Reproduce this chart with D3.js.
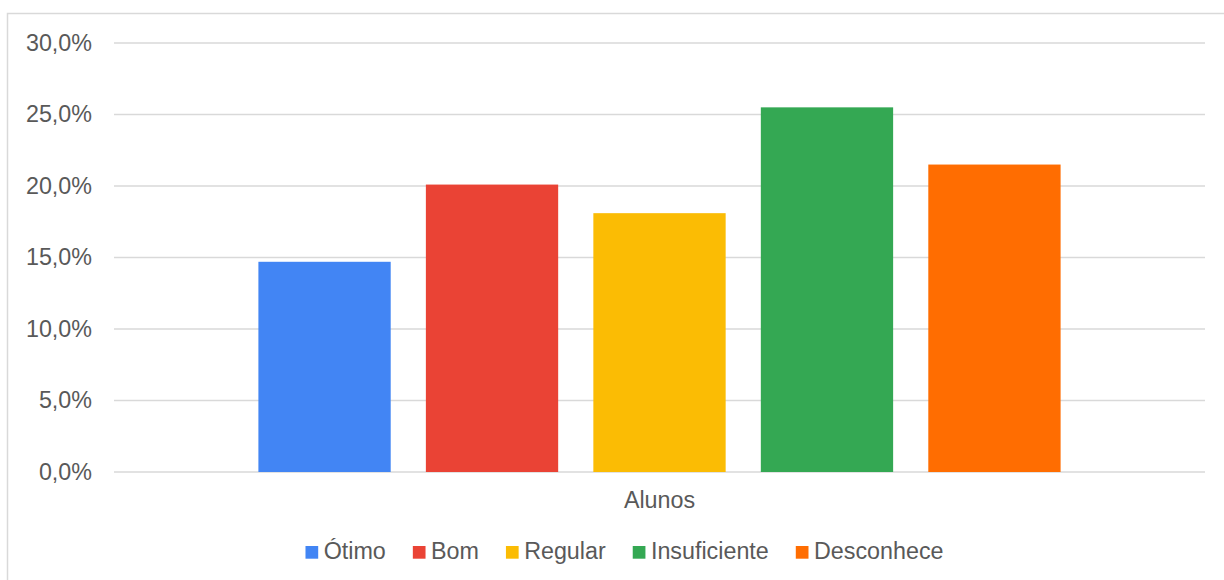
<!DOCTYPE html>
<html>
<head>
<meta charset="utf-8">
<title>Alunos</title>
<style>
  body { margin: 0; background: #fff; }
  text { font-family: "Liberation Sans", Arial, sans-serif; fill: #595959; }
  .grid line { stroke: #d9d9d9; stroke-width: 1.5px; }
</style>
</head>
<body>
<script src="https://cdn.jsdelivr.net/npm/d3@7"></script>
<script>
// data
var categories = ["Alunos"];
var series = ["Ótimo", "Bom", "Regular", "Insuficiente", "Desconhece"];
var values = [14.7, 20.1, 18.1, 25.5, 21.5];
var colors = ["#4285F4", "#EA4335", "#FBBC04", "#34A853", "#FF6D01"];
var yTicks = [0, 5, 10, 15, 20, 25, 30];

var W = 1224, H = 580;
var margin = { top: 43, right: 19, bottom: 108, left: 114 };

var svg = d3.select("body").append("svg")
    .attr("width", W)
    .attr("height", H);

// chart area border (only left and top visible)
svg.append("rect")
    .attr("x", 7.5).attr("y", 13.5)
    .attr("width", W + 20).attr("height", H + 20)
    .attr("fill", "none")
    .attr("stroke", "#d9d9d9")
    .attr("stroke-width", 1.5);

var y = d3.scaleLinear()
    .domain([0, 30])
    .range([H - margin.bottom, margin.top]);

var x0 = d3.scaleBand()
    .domain(categories)
    .range([margin.left, W - margin.right])
    .paddingOuter(0.18);

var x1 = d3.scaleBand()
    .domain(series)
    .range([0, x0.bandwidth()])
    .paddingInner(0.21);

var fmt = function(d) { return d3.format(".1f")(d).replace(".", ",") + "%"; };

// gridlines
svg.append("g")
    .attr("class", "grid")
    .selectAll("line")
    .data(yTicks)
    .join("line")
    .attr("x1", margin.left)
    .attr("x2", W - margin.right)
    .attr("y1", function(d) { return y(d); })
    .attr("y2", function(d) { return y(d); });

// y labels
svg.append("g")
    .selectAll("text")
    .data(yTicks)
    .join("text")
    .attr("x", 92)
    .attr("y", function(d) { return y(d); })
    .attr("dy", "0.33em")
    .attr("text-anchor", "end")
    .style("font-size", "23.3px")
    .text(fmt);

// bars
svg.append("g")
    .selectAll("rect")
    .data(values)
    .join("rect")
    .attr("x", function(d, i) { return x0("Alunos") + x1(series[i]); })
    .attr("y", function(d) { return y(d); })
    .attr("width", x1.bandwidth())
    .attr("height", function(d) { return y(0) - y(d); })
    .attr("fill", function(d, i) { return colors[i]; });

// category label
svg.append("text")
    .attr("x", x0("Alunos") + x0.bandwidth() / 2)
    .attr("y", 508)
    .attr("text-anchor", "middle")
    .style("font-size", "23.3px")
    .text(categories[0]);

// legend
var legend = svg.append("g");
var sq = 12.7, sqGap = 5.5, itemGap = 27;
var items = legend.selectAll("g")
    .data(series)
    .join("g");
items.append("rect")
    .attr("width", sq).attr("height", sq)
    .attr("y", 546)
    .attr("fill", function(d, i) { return colors[i]; });
items.append("text")
    .attr("x", sq + sqGap)
    .attr("y", 559)
    .style("font-size", "23.3px")
    .text(function(d) { return d; });

var pos = 0, offsets = [];
items.each(function() {
    offsets.push(pos);
    var tw = d3.select(this).select("text").node().getComputedTextLength();
    pos += sq + sqGap + tw + itemGap;
});
var total = pos - itemGap;
var start = 624.5 - total / 2;
items.attr("transform", function(d, i) { return "translate(" + (start + offsets[i]) + ",0)"; });
</script>
</body>
</html>
